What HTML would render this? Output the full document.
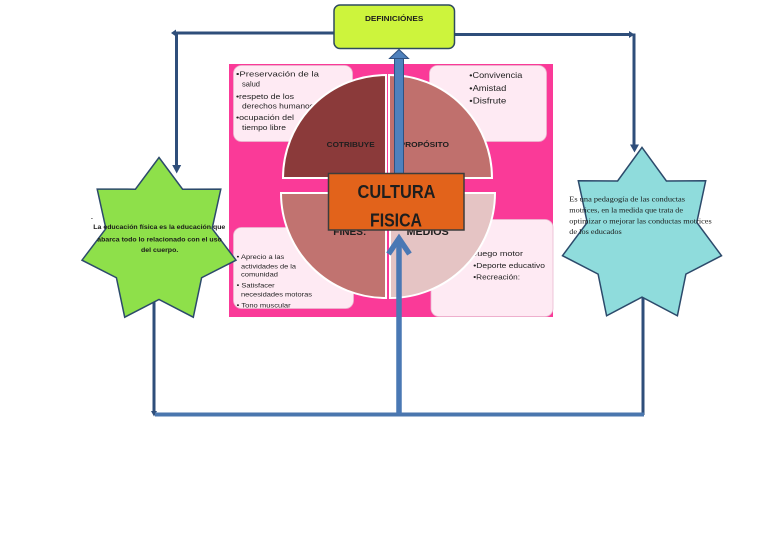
<!DOCTYPE html>
<html><head><meta charset="utf-8"><style>
html,body{margin:0;padding:0;background:#fff;}
svg{display:block;}
text{font-family:"Liberation Sans",sans-serif;}
.s{font-family:"Liberation Serif",serif;}
</style></head><body>
<svg width="768" height="544" viewBox="0 0 768 544" xmlns="http://www.w3.org/2000/svg">
<rect x="0" y="0" width="768" height="544" fill="#fff"/>

<!-- connectors top -->
<g stroke="#2f4e7a" stroke-width="3" fill="none">
  <line x1="334" y1="33" x2="175" y2="33"/>
  <line x1="176.5" y1="32" x2="176.5" y2="166"/>
  <line x1="455" y1="34.5" x2="629" y2="34.5"/>
  <line x1="634" y1="33.5" x2="634" y2="145"/>
  <line x1="154" y1="298" x2="154" y2="412"/>
  <line x1="643" y1="296" x2="643" y2="415"/>
</g>
<g fill="#2f4e7a">
  <polygon points="171,33 176,29.5 176,36.5"/>
  <polygon points="176.7,173.5 172.2,165 181.2,165"/>
  <polygon points="634.5,34.5 629,31 629,38"/>
  <polygon points="634.5,152.5 630,144.5 639,144.5"/>
  <polygon points="154,416.5 151,411 157,411"/>
</g>
<line x1="155" y1="414.5" x2="644" y2="414.5" stroke="#4a76ae" stroke-width="4"/>

<!-- pink background -->
<rect x="229" y="64" width="324" height="253" fill="#fa3a98"/>

<!-- boxes -->
<g fill="#feeaf3" stroke="#eab9d0" stroke-width="0.8">
  <rect x="233.5" y="65.5" width="119" height="76" rx="8"/>
  <rect x="429.5" y="65.5" width="117" height="76" rx="8"/>
  <rect x="233.5" y="227.5" width="120" height="81" rx="8"/>
  <rect x="431" y="219.5" width="122" height="97" rx="8"/>
</g>

<g fill="#222" font-size="7.5">
  <text x="236" y="76.5" textLength="83" lengthAdjust="spacingAndGlyphs">•Preservación de la</text>
  <text x="242" y="86.5" textLength="18" lengthAdjust="spacingAndGlyphs">salud</text>
  <text x="236" y="99" textLength="58" lengthAdjust="spacingAndGlyphs">•respeto de los</text>
  <text x="242" y="108.5" textLength="72" lengthAdjust="spacingAndGlyphs">derechos humanos</text>
  <text x="236" y="120" textLength="58" lengthAdjust="spacingAndGlyphs">•ocupación del</text>
  <text x="242" y="130" textLength="44" lengthAdjust="spacingAndGlyphs">tiempo libre</text>
</g>
<g fill="#222" font-size="8.5">
  <text x="469.3" y="78" textLength="53" lengthAdjust="spacingAndGlyphs">•Convivencia</text>
  <text x="469.3" y="91" textLength="37" lengthAdjust="spacingAndGlyphs">•Amistad</text>
  <text x="469.3" y="103.5" textLength="37" lengthAdjust="spacingAndGlyphs">•Disfrute</text>
</g>
<g fill="#222" font-size="6.8">
  <text x="236.7" y="259" textLength="47.6" lengthAdjust="spacingAndGlyphs">• Aprecio a las</text>
  <text x="241" y="268.3" textLength="55" lengthAdjust="spacingAndGlyphs">actividades de la</text>
  <text x="241" y="276.5" textLength="37" lengthAdjust="spacingAndGlyphs">comunidad</text>
  <text x="236.7" y="287.5" textLength="38" lengthAdjust="spacingAndGlyphs">• Satisfacer</text>
  <text x="241" y="296.5" textLength="71" lengthAdjust="spacingAndGlyphs">necesidades motoras</text>
  <text x="236.7" y="307.5" textLength="54" lengthAdjust="spacingAndGlyphs">• Tono muscular</text>
</g>
<g fill="#222" font-size="7.5">
  <text x="469.5" y="256" textLength="53.5" lengthAdjust="spacingAndGlyphs">•Juego motor</text>
  <text x="473.3" y="268" textLength="71.7" lengthAdjust="spacingAndGlyphs">•Deporte educativo</text>
  <text x="473.3" y="279.7" textLength="46.7" lengthAdjust="spacingAndGlyphs">•Recreación:</text>
</g>

<!-- pie -->
<g stroke="#fff" stroke-width="2">
  <path d="M386,178 L283,178 A103,103 0 0 1 386,75 Z" fill="#8b3a3a"/>
  <path d="M389,178 L389,75 A103,103 0 0 1 492,178 Z" fill="#c0706d"/>
  <path d="M386,193 L386,298 A105,105 0 0 1 281,193 Z" fill="#c17370"/>
  <path d="M390,193 L495,193 A105,105 0 0 1 390,298 Z" fill="#e5c4c4"/>
</g>
<g fill="#1e1e1e" font-weight="bold">
  <text x="326.7" y="147" font-size="7.5" textLength="48" lengthAdjust="spacingAndGlyphs">COTRIBUYE</text>
  <text x="399.5" y="147" font-size="7.5" textLength="49.5" lengthAdjust="spacingAndGlyphs">PROPÓSITO</text>
  <text x="333.3" y="235" font-size="10" textLength="33" lengthAdjust="spacingAndGlyphs">FINES:</text>
  <text x="406.7" y="235" font-size="10" textLength="42" lengthAdjust="spacingAndGlyphs">MEDIOS</text>
</g>

<!-- central arrows -->
<rect x="394.5" y="57" width="9" height="125" fill="#4f81bd" stroke="#2f5282" stroke-width="1"/>
<polygon points="389.5,58.5 399,49.5 408.5,58.5" fill="#4f81bd" stroke="#2f5282" stroke-width="1"/>
<line x1="399" y1="414" x2="399" y2="240" stroke="#4a78b4" stroke-width="5.5"/>
<polyline points="388.5,254 399,238.5 409.5,254" fill="none" stroke="#4a78b4" stroke-width="5.5"/>

<!-- CULTURA FISICA -->
<rect x="328.5" y="173.5" width="135.5" height="56.5" fill="#e2631b" stroke="#3c3c3c" stroke-width="1.5"/>
<text x="396.5" y="198" font-size="18" font-weight="bold" fill="#1e1e1e" text-anchor="middle" textLength="78" lengthAdjust="spacingAndGlyphs">CULTURA</text>
<text x="396" y="226.5" font-size="18" font-weight="bold" fill="#1e1e1e" text-anchor="middle" textLength="52" lengthAdjust="spacingAndGlyphs">FISICA</text>

<!-- DEFINICIONES -->
<rect x="334" y="5" width="120.5" height="43.5" rx="6" fill="#cdf43c" stroke="#2e4a5e" stroke-width="1.5"/>
<text x="365" y="21" font-size="7" font-weight="bold" fill="#1e1e1e" textLength="58.3" lengthAdjust="spacingAndGlyphs">DEFINICIÓNES</text>

<!-- stars -->
<polygon points="159,157.5 182.6,189.2 220.8,189.1 212.1,228.6 236,260.2 201.6,277.7 193.3,317.2 159,299.5 124.7,317.2 116.4,277.7 82,260.2 105.9,228.6 97.2,189.1 135.4,189.2" fill="#8ee04a" stroke="#2c4a6b" stroke-width="1.5" stroke-linejoin="miter"/>
<polygon points="642,147.4 666.4,181 705.7,180.8 696.8,222.4 721.5,255.7 685.9,274.1 677.4,315.8 642,297.1 606.6,315.8 598.1,274.1 562.5,255.7 587.2,222.4 578.3,180.8 617.6,181" fill="#8fdcdc" stroke="#2c4a6b" stroke-width="1.5" stroke-linejoin="miter"/>

<g fill="#1a1a1a" font-weight="bold" font-size="6.8">
  <text x="91" y="219">.</text>
  <text x="93.3" y="229" textLength="132" lengthAdjust="spacingAndGlyphs">La educación física es la educación que</text>
  <text x="97.3" y="241.5" textLength="124.4" lengthAdjust="spacingAndGlyphs">abarca todo lo relacionado con el uso</text>
  <text x="141" y="252" textLength="37.3" lengthAdjust="spacingAndGlyphs">del cuerpo.</text>
</g>
<g fill="#1a1a1a" font-size="7.2" class="s">
  <text class="s" x="569.3" y="201.6" textLength="115.7" lengthAdjust="spacingAndGlyphs">Es una pedagogía de las conductas</text>
  <text class="s" x="569.3" y="212.3" textLength="113.7" lengthAdjust="spacingAndGlyphs">motrices, en la medida que trata de</text>
  <text class="s" x="569.3" y="223.3" textLength="142.4" lengthAdjust="spacingAndGlyphs">optimizar o mejorar las conductas motrices</text>
  <text class="s" x="569.3" y="234" textLength="52.4" lengthAdjust="spacingAndGlyphs">de los educados</text>
</g>
</svg>
</body></html>
